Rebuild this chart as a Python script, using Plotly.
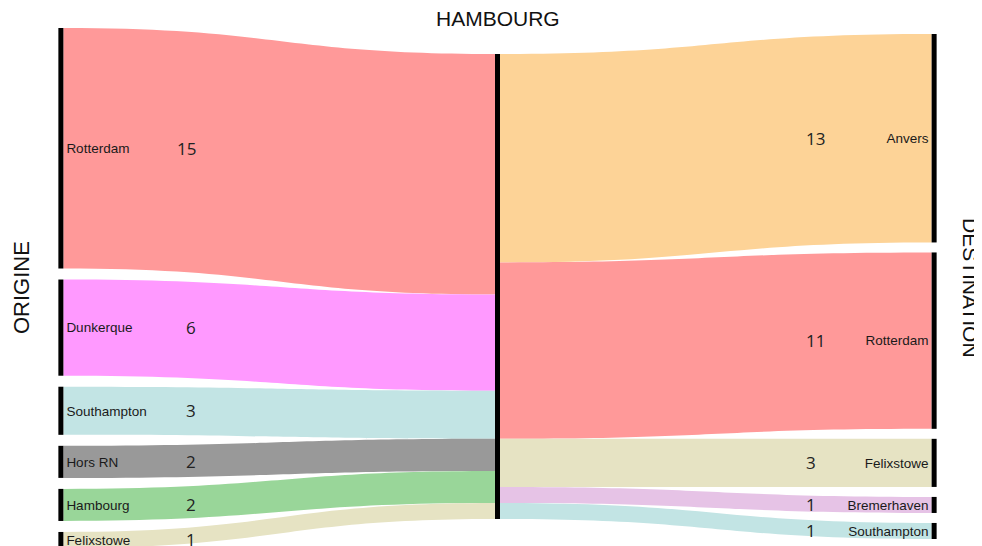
import plotly.graph_objects as go

# flux vers / depuis Hambourg
origines = ["Rotterdam", "Dunkerque", "Southampton", "Hors RN", "Hambourg", "Felixstowe"]
origine_vals = [15, 6, 3, 2, 2, 1]
origine_cols = ["#FF9999", "#FF99FF", "#C2E4E4", "#999999", "#99D699", "#E6E3C3"]

destinations = ["Anvers", "Rotterdam", "Felixstowe", "Bremerhaven", "Southampton"]
dest_vals = [13, 11, 3, 1, 1]
dest_cols = ["#FDD397", "#FF9999", "#E6E3C3", "#E6C3E6", "#C2E4E4"]

hub = "HAMBOURG"

n_o = len(origines)
hub_idx = n_o
labels = origines + [""] + destinations

source = list(range(n_o)) + [hub_idx] * len(destinations)
target = [hub_idx] * n_o + [hub_idx + 1 + i for i in range(len(destinations))]
values = origine_vals + dest_vals
colors = origine_cols + dest_cols

# la page ajoute une marge de 8px autour du graphique
W, H = 982, 546
m_l, m_r, m_t, m_b = 52, 55, 20, 6
pad_o, pad_d = 11, 10
ph = H - m_t - m_b

# echelle identique a celle de d3-sankey (colonne la plus chargee)
ky = (ph - (len(origine_vals) - 1) * pad_o) / sum(origine_vals)
mid = ph / 2 - 1.5   # centre des colonnes de droite, un peu remonte

def centres(vals, pad, centre):
    span = sum(vals) * ky + (len(vals) - 1) * pad
    off = centre - span / 2
    out, cum = [], 0
    for i, v in enumerate(vals):
        out.append(off + cum * ky + i * pad + v * ky / 2)
        cum += v
    return out

yc_o = centres(origine_vals, pad_o, ph / 2)
yc_d = centres(dest_vals, pad_d, mid)
node_x = [0.001] * n_o + [0.5] + [0.999] * len(destinations)
node_y = [y / ph for y in yc_o] + [mid / ph] + [y / ph for y in yc_d]

fig = go.Figure(go.Sankey(
    arrangement="fixed",
    node=dict(label=labels, color="black", thickness=5, pad=pad_o,
              x=node_x, y=node_y, line=dict(width=0)),
    link=dict(source=source, target=target, value=values, color=colors),
    textfont=dict(family="Liberation Sans, Arial", size=13.5, color="#1a1a1a", shadow="none"),
))

num_font = dict(size=17, family="Open Sans", color="#222")
pw = W - m_l - m_r
annots = []
for v, yc in zip(origine_vals, yc_o):
    annots.append(dict(x=(190 - m_l) / pw, y=1 - yc / ph, xref="paper", yref="paper",
                       xanchor="right", yanchor="middle",
                       text=str(v), showarrow=False, font=num_font))
for v, yc in zip(dest_vals, yc_d):
    annots.append(dict(x=(796 - m_l) / pw, y=1 - yc / ph, xref="paper", yref="paper",
                       xanchor="left", yanchor="middle",
                       text=str(v), showarrow=False, font=num_font))

title_font = dict(size=21, family="Liberation Sans, Arial", color="#111")
annots.append(dict(x=0.5, y=1, xref="paper", yref="paper", yshift=10,
                   xanchor="center", yanchor="middle",
                   text=hub, showarrow=False, font=title_font))
annots.append(dict(x=0, y=0.5, xref="paper", yref="paper", xshift=13 - m_l,
                   xanchor="center", yanchor="middle",
                   text="ORIGINE", textangle=-90, showarrow=False,
                   font=dict(size=22, family="Liberation Sans, Arial", color="#111")))
annots.append(dict(x=1, y=0.5, xref="paper", yref="paper", xshift=963 - (W - m_r),
                   xanchor="center", yanchor="middle",
                   text="DESTINATION", textangle=90, showarrow=False, font=title_font))

fig.update_layout(
    width=W, height=H,
    margin=dict(l=m_l, r=m_r, t=m_t, b=m_b),
    paper_bgcolor="white",
    annotations=annots,
)

fig.write_html("out.html")
